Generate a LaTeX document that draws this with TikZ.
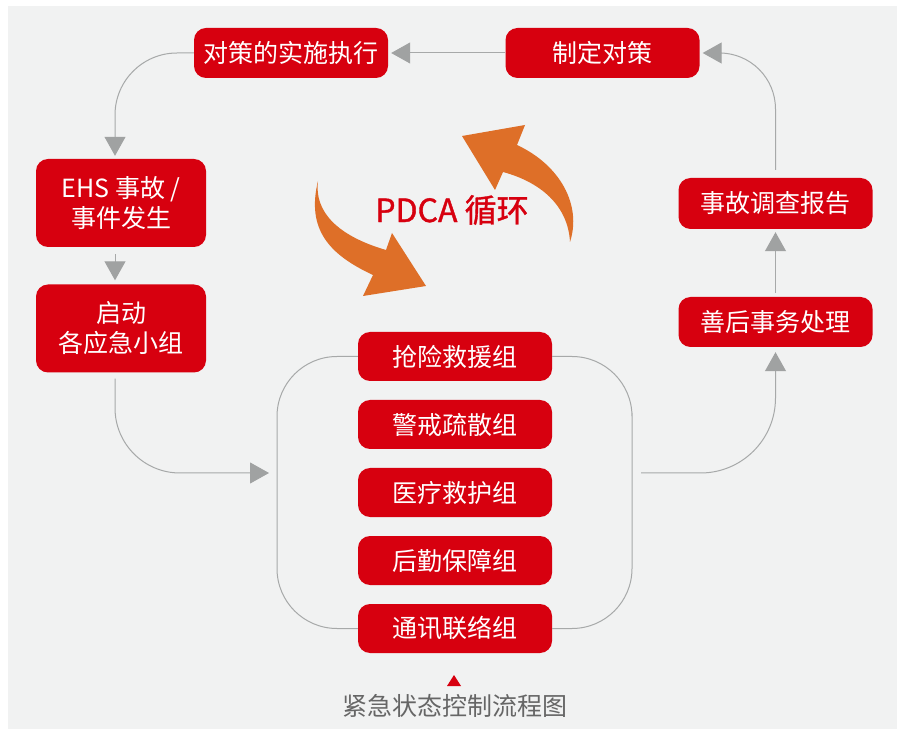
\documentclass[tikz,border=0pt]{standalone}
\usepackage{fontspec}
\setmainfont{Noto Sans CJK SC}
\newfontfamily\pdcafont[FakeBold=1.2]{Noto Sans CJK SC}
\usetikzlibrary{arrows.meta,positioning}
\definecolor{boxred}{RGB}{215,0,15}
\definecolor{bggray}{RGB}{241,242,242}
\definecolor{linegray}{RGB}{167,169,169}
\definecolor{tipgray}{RGB}{160,162,162}
\definecolor{pdcaorange}{RGB}{222,111,40}
\definecolor{capgray}{RGB}{102,102,102}

\begin{document}
\begin{tikzpicture}[x=1pt,y=1pt,node distance=68pt,on grid,
        redbox/.style={fill=boxred,text=white,rounded corners=12pt,minimum width=194pt,minimum height=50pt,inner sep=0pt,align=center,font=\fontsize{25}{30}\selectfont},
        tallbox/.style={redbox,minimum width=170pt,minimum height=88pt},
        wire/.style={draw=linegray,line width=1pt},
        gotip/.style={-{Triangle[length=19pt,width=21pt,color=tipgray]}}]
        \useasboundingbox (0,0) rectangle (897,729);
        \fill[bggray] (8,0) rectangle (897,723);

        \node[redbox] (act) at (291,676) {对策的实施执行};
        \node[redbox] (plan) at (602.5,676) {制定对策};
        \node[tallbox] (ehs) at (121,526) {EHS 事故 /\\事件发生};
        \node[tallbox] (start) at (121,400.5) {启动\\各应急小组};
        \node[redbox,minimum height=49pt] (g_1) at (455,372.5) {抢险救援组};
        \node[redbox,minimum height=49pt] (g_2) [below=of g_1] {警戒疏散组};
        \node[redbox,minimum height=49pt] (g_3) [below=of g_2] {医疗救护组};
        \node[redbox,minimum height=49pt] (g_4) [below=of g_3] {后勤保障组};
        \node[redbox,minimum height=49pt] (g_5) [below=of g_4] {通讯联络组};
        \node[redbox] (after) at (775.5,407) {善后事务处理};
        \node[redbox,minimum height=51pt] (report) at (775.5,525.5) {事故调查报告};
        \coordinate (in_l) at (277,256);
        \coordinate (in_r) at (632,256);

        % PDCA
        \node[text=boxred,font=\pdcafont\fontsize{32}{32}\selectfont] (pdca) at (452,519) {PDCA 循环};
        \fill[pdcaorange] (318,548) .. controls (306,499) and (330,474) .. (373,454) -- (363,433) -- (426,443)
            -- (392,496) -- (386,479) .. controls (338,493) and (314,517) .. (318,548) -- cycle;
        \fill[pdcaorange] (570,487) .. controls (582,524) and (560,564) .. (517,584) -- (525,604) -- (462,593)
            -- (495,539) -- (503,557) .. controls (540,547) and (568,524) .. (570,487) -- cycle;

        \draw[wire,gotip,shorten >=3pt] (plan) -- (act);
        \draw[wire,gotip,rounded corners=62pt,shorten >=3pt] (act.west) -| ([xshift=-6pt]ehs.north);
        \draw[wire,gotip,shorten <=7pt,shorten >=4pt] ([xshift=-6pt]ehs.south) -- ([xshift=-6pt]start.north);
        \draw[wire,gotip,rounded corners=65pt,shorten <=6pt,shorten >=8pt] ([xshift=-6pt]start.south) |- (in_l);
        \draw[wire,rounded corners=60pt] (g_1.west) -| (in_l) |- (g_5.west);
        \draw[wire,rounded corners=60pt] (g_1.east) -| (in_r) |- (g_5.east);
        \draw[wire,gotip,rounded corners=75pt,shorten <=9pt,shorten >=5pt] (in_r) -| (after.south);
        \draw[wire,gotip,shorten <=4pt,shorten >=3pt] (after) -- (report);
        \draw[wire,gotip,rounded corners=56pt,shorten <=8pt,shorten >=3pt] (report.north) |- (plan.east);

        % caption
        \fill[boxred] (447,43) -- (461,43) -- (454,54) -- cycle;
        \node[text=capgray,font=\fontsize{25}{25}\selectfont] (cap) at (455,23) {紧急状态控制流程图};
    \end{tikzpicture}
\end{document}
